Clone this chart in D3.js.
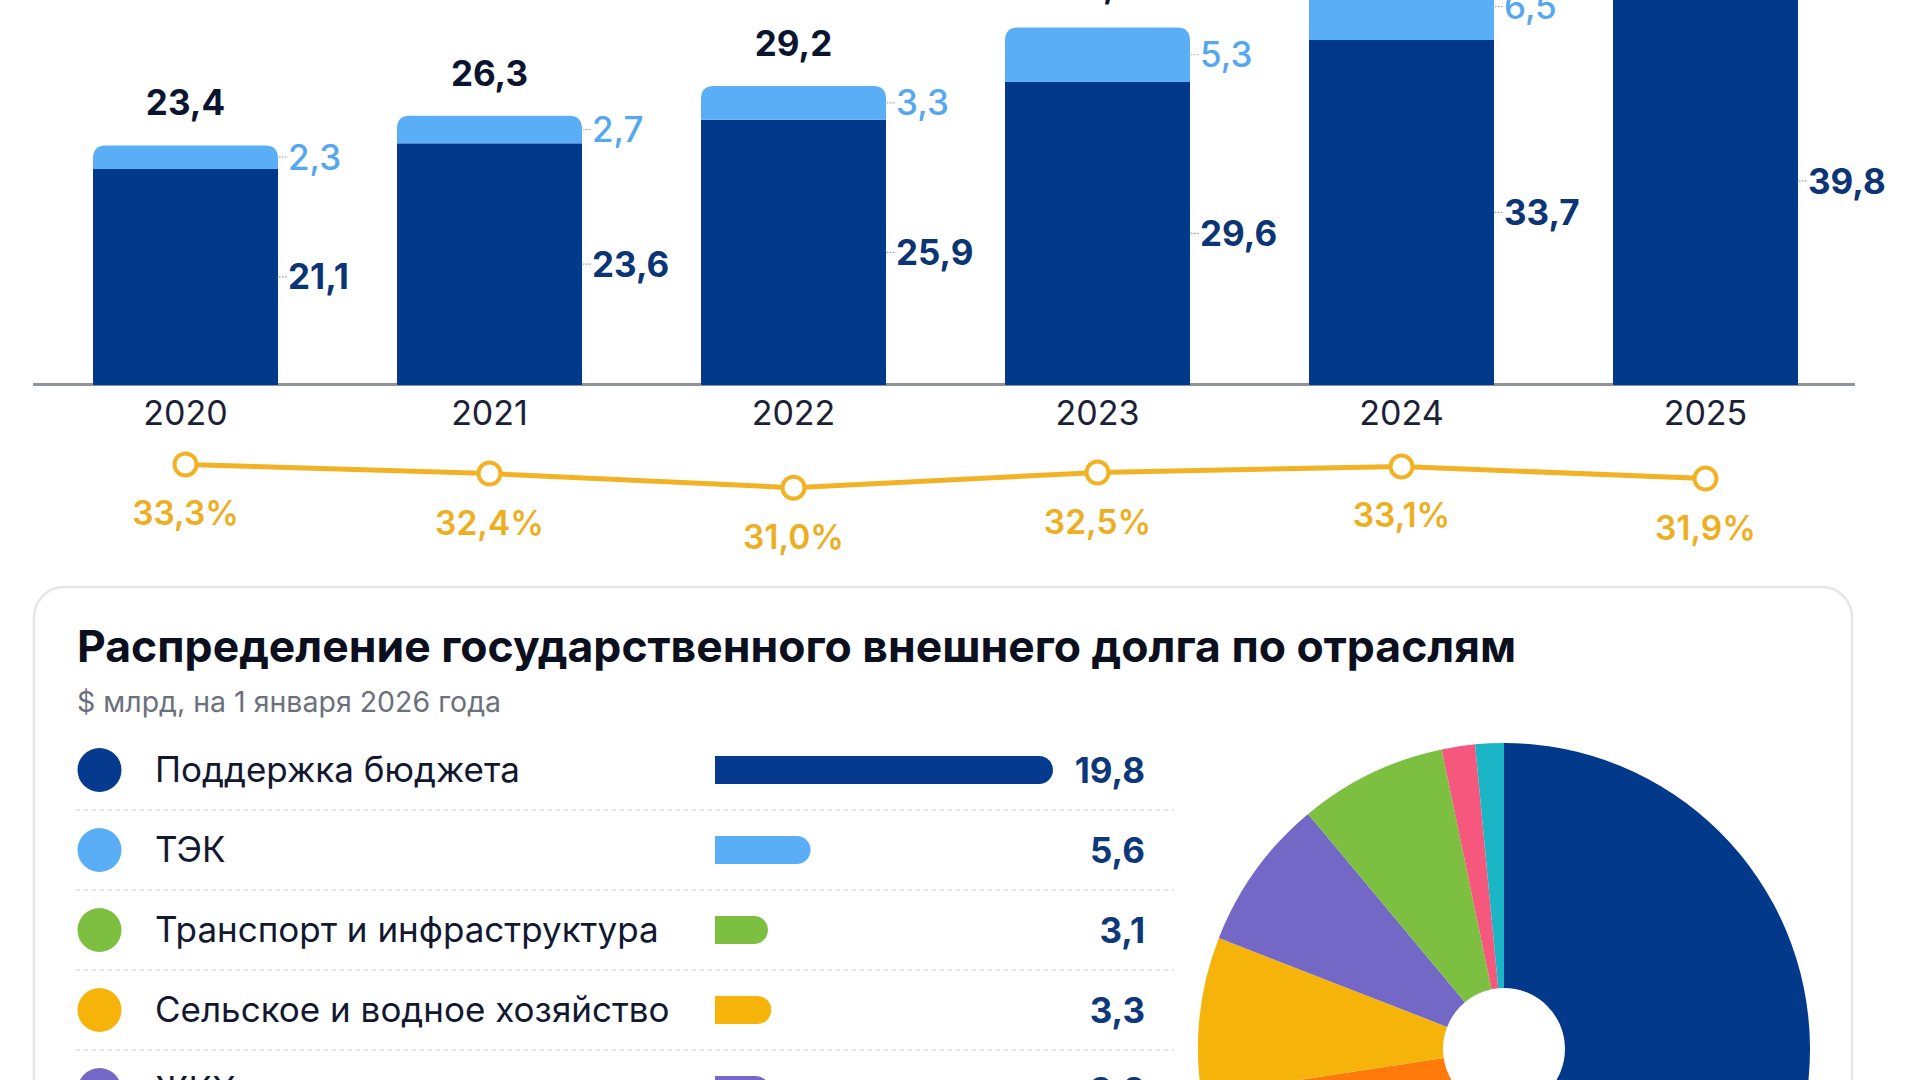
<!DOCTYPE html>
<html>
<head>
<meta charset="utf-8">
<script src="https://cdn.jsdelivr.net/npm/d3@7"></script>
<style>
  html, body { margin: 0; padding: 0; background: #ffffff; }
  svg { display: block; font-family: Inter, "Noto Sans", sans-serif; }
</style>
</head>
<body>
<svg id="chart" width="1920" height="1080"></svg>
<script>
// ---- data ----
const years = ["2020", "2021", "2022", "2023", "2024", "2025"];
const darkValues = [21.1, 23.6, 25.9, 29.6, 33.7, 39.8];
const lightValues = [2.3, 2.7, 3.3, 5.3, 6.5, null];
const totalValues = [23.4, 26.3, 29.2, 34.9, 40.2, null];
const shareValues = [33.3, 32.4, 31.0, 32.5, 33.1, 31.9];

const sectors = ["Поддержка бюджета", "ТЭК", "Транспорт и инфраструктура", "Сельское и водное хозяйство", "ЖКХ"];
const sectorValues = [19.8, 5.6, 3.1, 3.3, 3.2];
const sectorColors = ["#063a8e", "#5aaef5", "#7cbf41", "#f6b40b", "#7468c6"];

// pie slices clockwise from the top (lower slices are outside the picture)
const pieValues = [19.8, 5.6, 3.5, 3.3, 3.2, 3.1, 0.7, 0.6];
const pieColors = ["#02398b", "#5aaef5", "#ff7a0a", "#f6b40b", "#7468c6", "#7cbf41", "#f5577d", "#1bb6c6"];

const title = "Распределение государственного внешнего долга по отраслям";
const subtitle = "$ млрд, на 1 января 2026 года";

const fmt = v => String(v.toFixed(1)).replace(".", ",");

// ---- colours ----
const DARK = "#02398b", LIGHT = "#5aaef6", YELLOW = "#f1b325";

const svg = d3.select("#chart");
svg.append("rect").attr("width", 1920).attr("height", 1080).attr("fill", "#fff");

// ---- stacked bars ----
const x = d3.scaleBand().domain(years).range([93, 1798]).paddingInner(0.3914).paddingOuter(0);
const y = d3.scaleLinear().domain([0, 40]).range([385, -24.6]);

svg.append("line").attr("x1", 33).attr("x2", 1855).attr("y1", 384.5).attr("y2", 384.5)
  .attr("stroke", "#8d929b").attr("stroke-width", 3);

const bw = x.bandwidth();
const r = 13;
function topRounded(x0, y0, w, h, rr) {
  return `M${x0},${y0 + h} L${x0},${y0 + rr} Q${x0},${y0} ${x0 + rr},${y0} L${x0 + w - rr},${y0} Q${x0 + w},${y0} ${x0 + w},${y0 + rr} L${x0 + w},${y0 + h} Z`;
}

years.forEach((yr, i) => {
  const x0 = x(yr);
  const d = darkValues[i], l = lightValues[i];
  const yd = y(d);
  if (l == null) {
    svg.append("path").attr("d", topRounded(x0, yd, bw, y(0) - yd, r)).attr("fill", DARK);
  } else {
    svg.append("rect").attr("x", x0).attr("y", yd).attr("width", bw).attr("height", y(0) - yd).attr("fill", DARK);
    const yl = y(d + l);
    svg.append("path").attr("d", topRounded(x0, yl, bw, yd - yl, r)).attr("fill", LIGHT);
    const ym = (yl + yd) / 2;
    svg.append("line").attr("x1", x0 + bw + 1).attr("x2", x0 + bw + 9).attr("y1", ym).attr("y2", ym)
      .attr("stroke", "#9aa7b8").attr("stroke-width", 1.2).attr("stroke-dasharray", "1.5,1.5");
    svg.append("text").attr("x", x0 + bw + 10).attr("y", ym + 12.5)
      .attr("font-size", 35).attr("font-weight", 500).attr("fill", "#55a7f0").text(fmt(l));
  }
  const ymd = (yd + y(0)) / 2;
  svg.append("line").attr("x1", x0 + bw + 1).attr("x2", x0 + bw + 9).attr("y1", ymd).attr("y2", ymd)
    .attr("stroke", "#8c9ab0").attr("stroke-width", 1.2).attr("stroke-dasharray", "1.5,1.5");
  svg.append("text").attr("x", x0 + bw + 10).attr("y", ymd + 12.5)
    .attr("font-size", 35).attr("font-weight", 700).attr("fill", "#0c3575").text(fmt(d));
  if (totalValues[i] != null) {
    svg.append("text").attr("x", x0 + bw / 2).attr("y", y(totalValues[i]) - 30)
      .attr("text-anchor", "middle").attr("font-size", 35).attr("font-weight", 700)
      .attr("fill", "#0b1530").text(fmt(totalValues[i]));
  }
  svg.append("text").attr("x", x0 + bw / 2).attr("y", 425)
    .attr("text-anchor", "middle").attr("font-size", 34).attr("font-weight", 400)
    .attr("fill", "#1b2238").text(yr);
});

// ---- share line ----
const yp = d3.scaleLinear().domain([30, 35]).range([497.8, 447.3]);
const pts = years.map((yr, i) => [x(yr) + bw / 2, yp(shareValues[i])]);
svg.append("path").attr("d", d3.line()(pts)).attr("fill", "none")
  .attr("stroke", YELLOW).attr("stroke-width", 5).attr("stroke-linejoin", "round");
pts.forEach((p, i) => {
  svg.append("circle").attr("cx", p[0]).attr("cy", p[1]).attr("r", 11)
    .attr("fill", "#fff").attr("stroke", YELLOW).attr("stroke-width", 4);
  svg.append("text").attr("x", p[0]).attr("y", p[1] + 61).attr("text-anchor", "middle")
    .attr("font-size", 33.5).attr("font-weight", 600).attr("fill", "#edae1f")
    .text(fmt(shareValues[i]) + "%");
});

// ---- card ----
svg.append("rect").attr("x", 34).attr("y", 587).attr("width", 1818).attr("height", 620)
  .attr("rx", 30).attr("fill", "#fff").attr("stroke", "#e4e6ea").attr("stroke-width", 2.5);

svg.append("text").attr("x", 77).attr("y", 662).attr("font-size", 44.5).attr("font-weight", 700)
  .attr("fill", "#0b0f1e").text(title);
svg.append("text").attr("x", 77).attr("y", 712).attr("font-size", 28.5).attr("font-weight", 400)
  .attr("fill", "#6b717c").text(subtitle);

// ---- sector list ----
const yr_ = d3.scaleBand().domain(sectors).range([730, 1130]);
const xs = d3.scaleLinear().domain([0, 20]).range([715, 1056.4]);
const bh = 28;

sectors.forEach((s, i) => {
  const cy = yr_(s) + yr_.bandwidth() / 2;
  if (i > 0) {
    svg.append("line").attr("x1", 76).attr("x2", 1174).attr("y1", yr_(s)).attr("y2", yr_(s))
      .attr("stroke", "#dadde2").attr("stroke-width", 1.5).attr("stroke-dasharray", "4,4");
  }
  svg.append("circle").attr("cx", 99.5).attr("cy", cy).attr("r", 22).attr("fill", sectorColors[i]);
  svg.append("text").attr("x", 155).attr("y", cy + 12).attr("font-size", 35).attr("font-weight", 400)
    .attr("fill", "#111830").text(s);
  const x0 = xs(0), x1 = xs(sectorValues[i]), h2 = bh / 2;
  svg.append("path")
    .attr("d", `M${x0},${cy - h2} L${x1 - h2},${cy - h2} A${h2},${h2} 0 0 1 ${x1 - h2},${cy + h2} L${x0},${cy + h2} Z`)
    .attr("fill", sectorColors[i]);
  svg.append("text").attr("x", 1145).attr("y", cy + 12.5).attr("text-anchor", "end")
    .attr("font-size", 35).attr("font-weight", 700).attr("fill", "#0d3879").text(fmt(sectorValues[i]));
});

// ---- pie ----
const pie = d3.pie().sort(null).value(d => d);
const arc = d3.arc().innerRadius(61).outerRadius(306);
const g = svg.append("g").attr("transform", "translate(1504,1049)");
g.selectAll("path").data(pie(pieValues)).join("path")
  .attr("d", arc).attr("fill", (d, i) => pieColors[i]);
</script>
</body>
</html>
